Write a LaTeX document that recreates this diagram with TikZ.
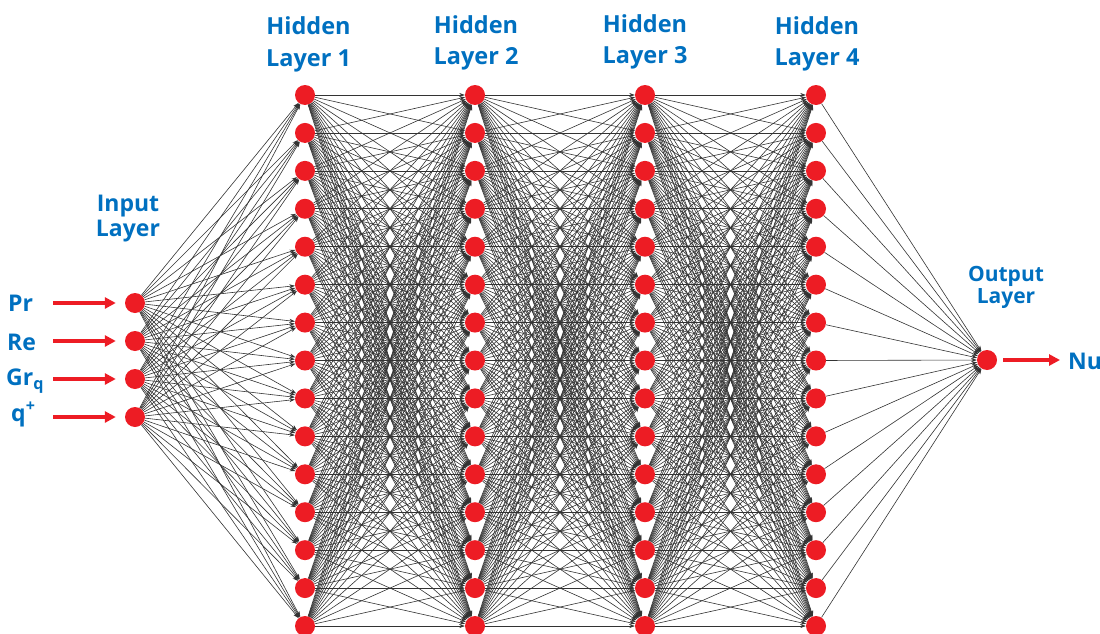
\documentclass[tikz,border=0pt]{standalone}
\usepackage{fontspec}
\setmainfont{Open Sans}
\usetikzlibrary{arrows.meta}
\definecolor{lblue}{HTML}{0070C0}
\definecolor{nred}{HTML}{ED1C24}
\pgfdeclarelayer{links}
\pgfsetlayers{links,main}
\begin{document}
\begin{tikzpicture}[x=1pt,y=-1pt,
  neuron/.style={circle,fill=nred,minimum size=20pt,inner sep=0pt},
  link/.style={draw=black!80,line width=0.6pt,-{Stealth[length=5.5pt,width=4pt]}},
  feed/.style={draw=nred,line width=3.2pt,-{Triangle[length=11pt,width=11pt]}},
  lab/.style={text=lblue,font=\fontsize{23.5}{31.5}\selectfont\bfseries,align=center,anchor=base,inner sep=0pt},
  varlab/.style={text=lblue,font=\fontsize{23}{28}\selectfont\bfseries,inner sep=0pt,anchor=base west}]
\useasboundingbox (0,0) rectangle (1100,634);

% input layer
\foreach \j in {1,...,4}
  \node[neuron] (i\j) at (135,{303+38*(\j-1)}) {};

% hidden layers
\foreach \L/\x in {1/305,2/475,3/645,4/816}
  \foreach \j in {1,...,15}
    \node[neuron] (h\L-\j) at (\x,{95+37.93*(\j-1)}) {};

% output layer
\node[neuron] (out) at (987,360) {};

% layer titles (anchored at the baseline of the last line)
\node[lab] (t1) at (308.5,66.5) {Hidden\\Layer 1};
\node[lab] (t2) at (476,64.5) {Hidden\\Layer 2};
\node[lab] (t3) at (645,63.5) {Hidden\\Layer 3};
\node[lab] (t4) at (817,65.5) {Hidden\\Layer 4};
\node[lab,font=\fontsize{23}{25}\selectfont\bfseries] (tin) at (128,236.7) {Input\\Layer};
\node[lab,font=\fontsize{21}{21.5}\selectfont\bfseries] (tout) at (1006,303) {Output\\Layer};

% input variables
\node[varlab] (pr) at (8,311.7) {Pr};
\node[varlab] (re) at (7,350.7) {Re};
\node[varlab] (gr) at (6,385.5) {Gr\textsubscript{q}};
\node[varlab] (qp) at (11,421) {q\textsuperscript{+}};
\node[varlab] (nu) at (1068,369) {Nu};

\foreach \j in {1,...,4}
  \coordinate (s\j) at (53,{303+38*(\j-1)});
\coordinate (nuend) at (1060,360);

\draw[feed,shorten >=9pt] (s1) -- (i1);
\draw[feed,shorten >=9pt] (s2) -- (i2);
\draw[feed,shorten >=9pt] (s3) -- (i3);
\draw[feed,shorten >=9pt] (s4) -- (i4);
\draw[feed,shorten <=6pt] (out) -- (nuend);

% weighted connections
\begin{pgfonlayer}{links}
  \foreach \a in {1,...,4}
    \foreach \b in {1,...,15}
      \draw[link] (i\a) -- (h1-\b);
  \foreach \L/\M in {1/2,2/3,3/4}
    \foreach \a in {1,...,15}
      \foreach \b in {1,...,15}
        \draw[link] (h\L-\a) -- (h\M-\b);
  \foreach \a in {1,...,15}
    \draw[link] (h4-\a) -- (out);
\end{pgfonlayer}
\end{tikzpicture}
\end{document}
